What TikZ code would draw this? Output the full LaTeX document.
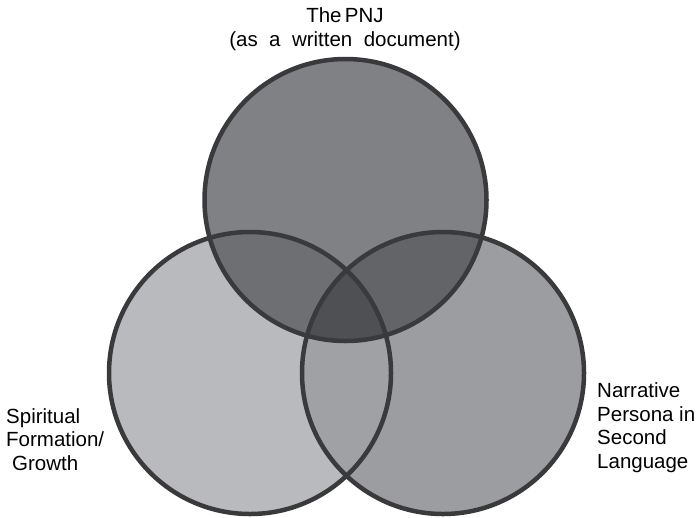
\documentclass[tikz,border=0pt]{standalone}
\usepackage{fontspec}
\setmainfont{Liberation Sans}
\usetikzlibrary{positioning}
\definecolor{ringline}{HTML}{3A3A3C}
\definecolor{cleft}{HTML}{B9BABD}
\definecolor{cright}{HTML}{9C9DA1}
\definecolor{ctop}{HTML}{808185}
\definecolor{clens}{HTML}{A0A1A5}
\definecolor{ctopleft}{HTML}{6E6F73}
\definecolor{ctopright}{HTML}{636468}
\definecolor{cmid}{HTML}{4F5054}
\tikzstyle{ring}=[draw=ringline,line width=4.5pt]
\tikzstyle{lbl}=[inner sep=0pt,font=\fontsize{20.5}{23.5}\selectfont,align=left]
\begin{document}
\begin{tikzpicture}[x=1pt,y=-1pt]
        \useasboundingbox (0,0) rectangle (700,517);
        \coordinate (T) at (345.5,200);
        \coordinate (L) at (250,373);
        \coordinate (R) at (443,373);
        % circle areas
        \fill[cleft] (L) circle (141);
        \fill[cright] (R) circle (141);
        \fill[ctop] (T) circle (141);
        \begin{scope}
            \clip (L) circle (141);
            \fill[clens] (R) circle (141);
            \fill[ctopleft] (T) circle (141);
        \end{scope}
        \begin{scope}
            \clip (R) circle (141);
            \fill[ctopright] (T) circle (141);
            \clip (L) circle (141);
            \fill[cmid] (T) circle (141);
        \end{scope}
        % outlines
        \draw[ring] (T) circle (141);
        \draw[ring] (L) circle (141);
        \draw[ring] (R) circle (141);
        % labels (base = last line)
        \node[lbl,align=center,anchor=base] (pnj) at (345,46)
            {The\,PNJ\\(as\ \ a\ \ written\ \ document)};
        \node[lbl,anchor=base west] (spirit) at (6,470)
            {Spiritual\\Formation/\\\hspace*{6pt}Growth};
        \node[lbl,anchor=base west] (persona) at (597,468)
            {Narrative\\Persona in\\Second\\Language};
    \end{tikzpicture}
\end{document}
